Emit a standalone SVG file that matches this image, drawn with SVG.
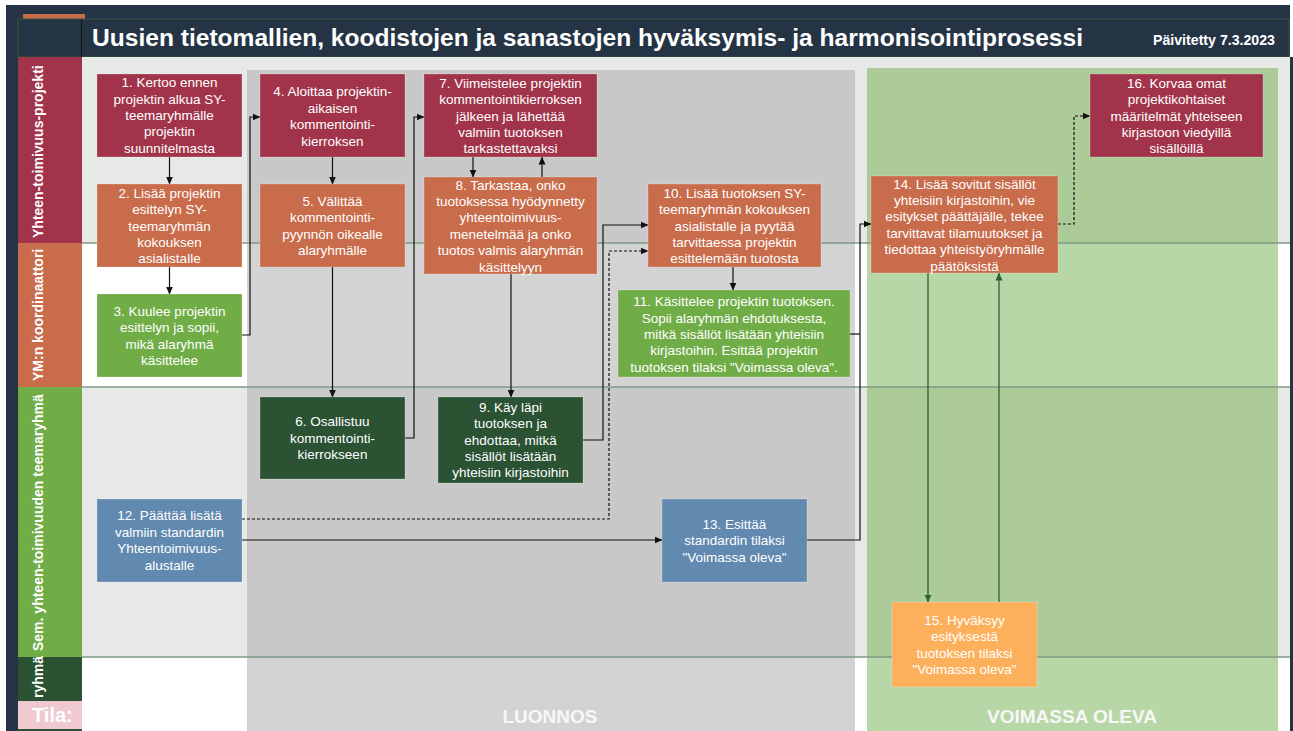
<svg xmlns="http://www.w3.org/2000/svg" width="1293" height="731" viewBox="0 0 1293 731">
<defs>
<style>
.nt{font-family:"Liberation Sans",Arial,sans-serif;font-size:13.5px;fill:#fff;text-anchor:middle}
.ln{font-family:"Liberation Sans",Arial,sans-serif;font-size:14px;font-weight:bold;fill:#fff}
.st{font-family:"Liberation Sans",Arial,sans-serif;font-size:19px;font-weight:bold;fill:#f7f7f7;text-anchor:middle}
.box{stroke:#ffffff;stroke-opacity:0.22;stroke-width:1}
.cr{fill:#A1344A}.or{fill:#C96C4C}.gr{fill:#70AD47}.dg{fill:#2A5233}.bl{fill:#6289AF}.ye{fill:#FDB05C}
.c{fill:none;stroke:#111;stroke-width:1.2}
.d{fill:none;stroke:#111;stroke-width:1.2;stroke-dasharray:3 2}
.g{fill:none;stroke:#2E5E36;stroke-width:1.3}
.sep{stroke:#7E9A84;stroke-width:1.5}
</style>
<marker id="ah" viewBox="0 0 8 8" refX="7.5" refY="4" markerWidth="8" markerHeight="8" markerUnits="userSpaceOnUse" orient="auto">
<path d="M0,0.5 L8,4 L0,7.5 z" fill="#111"/>
</marker>
<marker id="ahg" viewBox="0 0 8 8" refX="7.5" refY="4" markerWidth="8" markerHeight="8" markerUnits="userSpaceOnUse" orient="auto">
<path d="M0,0.5 L8,4 L0,7.5 z" fill="#2E5E36"/>
</marker>
</defs>

<g id="background">
<rect x="0" y="0" width="1293" height="731" fill="#ffffff"/>
<rect x="6" y="5" width="1284" height="52" fill="#243444"/>
<rect x="6" y="5" width="12" height="726" fill="#243444"/>
<rect x="1290" y="57" width="3" height="674" fill="#243444"/>
<rect x="23" y="14" width="62" height="5" fill="#C96C4C"/>
<rect x="18" y="19" width="1271" height="38" fill="none" stroke="#39543F" stroke-width="1"/>
<line x1="81.5" y1="19" x2="81.5" y2="57" stroke="#111" stroke-width="1"/>
<rect x="82" y="57" width="1208" height="186" fill="#E7E9E7"/>
<rect x="82" y="243" width="1208" height="144" fill="#ffffff"/>
<rect x="82" y="387" width="1208" height="270" fill="#E7E9E7"/>
<rect x="82" y="657" width="1208" height="74" fill="#ffffff"/>
<rect x="247" y="70" width="608" height="173" fill="#C8C8C8"/>
<rect x="247" y="243" width="608" height="144" fill="#D3D3D3"/>
<rect x="247" y="387" width="608" height="270" fill="#C8C8C8"/>
<rect x="247" y="657" width="608" height="74" fill="#D3D3D3"/>
<rect x="867" y="68" width="411" height="175" fill="#ADCB98"/>
<rect x="867" y="243" width="411" height="144" fill="#B8D7A6"/>
<rect x="867" y="387" width="411" height="270" fill="#ADCB98"/>
<rect x="867" y="657" width="411" height="74" fill="#B8D7A6"/>
<line class="sep" x1="82" y1="243" x2="1290" y2="243"/>
<line class="sep" x1="82" y1="387" x2="1290" y2="387"/>
<line class="sep" x1="82" y1="657" x2="1290" y2="657"/>
</g>

<g id="title">
<text x="92" y="46" textLength="991" lengthAdjust="spacingAndGlyphs" font-family="Liberation Sans, Arial, sans-serif" font-size="24" font-weight="bold" fill="#ffffff">Uusien tietomallien, koodistojen ja sanastojen hyväksymis- ja harmonisointiprosessi</text>
<text x="1153" y="45" textLength="122" lengthAdjust="spacingAndGlyphs" font-family="Liberation Sans, Arial, sans-serif" font-size="14" font-weight="bold" fill="#ffffff">Päivitetty 7.3.2023</text>
</g>

<g id="lanes">
<g id="lane-projekti"><rect x="18" y="57" width="64" height="186" class="cr"/><text class="ln" transform="translate(43,238) rotate(-90)">Yhteen-toimivuus-projekti</text></g>
<g id="lane-koordinaattori"><rect x="18" y="243" width="64" height="144" class="or"/><text class="ln" transform="translate(43,381) rotate(-90)">YM:n koordinaattori</text></g>
<g id="lane-teemaryhma"><rect x="18" y="387" width="64" height="270" class="gr"/><text class="ln" transform="translate(43,651) rotate(-90)">Sem. yhteen-toimivuuden teemaryhmä</text></g>
<g id="lane-ryhma"><rect x="18" y="657" width="64" height="44" class="dg"/><text class="ln" transform="translate(43,698) rotate(-90)">ryhmä</text></g>
<g id="lane-tila"><rect x="18" y="701" width="64" height="28" fill="#EFC8D0"/><rect x="18" y="729" width="64" height="2" class="dg"/><text x="32" y="722" font-family="Liberation Sans, Arial, sans-serif" font-size="20" font-weight="bold" fill="#ffffff">Tila:</text></g>
</g>

<g id="states">
<text class="st" x="550" y="723">LUONNOS</text>
<text class="st" x="1072" y="723">VOIMASSA OLEVA</text>
</g>

<g id="connectors">
<path class="c" d="M169.5,157 V184" marker-end="url(#ah)"/>
<path class="c" d="M169.5,267 V294" marker-end="url(#ah)"/>
<path class="c" d="M242,335 H250 V117 H260" marker-end="url(#ah)"/>
<path class="c" d="M332.5,157 V184" marker-end="url(#ah)"/>
<path class="c" d="M332.5,267 V397" marker-end="url(#ah)"/>
<path class="c" d="M405,438 H414 V117 H424" marker-end="url(#ah)"/>
<path class="c" d="M473,157 V177" marker-end="url(#ah)"/>
<path class="c" d="M542,177 V157" marker-end="url(#ah)"/>
<path class="c" d="M511,274 V397" marker-end="url(#ah)"/>
<path class="c" d="M583,440 H603 V225 H648" marker-end="url(#ah)"/>
<path class="c" d="M733,267 V290" marker-end="url(#ah)"/>
<path class="d" d="M242,519 H609 V251 H648" marker-end="url(#ah)"/>
<path class="c" d="M242,540 H662" marker-end="url(#ah)"/>
<path class="c" d="M807,540 H860 V224 H871" marker-end="url(#ah)"/>
<path class="c" d="M850,334 H860"/>
<path class="d" d="M1058,224 H1074 V116 H1090" marker-end="url(#ah)"/>
<path class="g" d="M928,273 V602" marker-end="url(#ahg)"/>
<path class="g" d="M999,602 V273" marker-end="url(#ahg)"/>
</g>

<g id="node1"><rect class="box cr" x="97" y="74" width="145" height="83"/>
<text class="nt" x="169.5" y="87.2"><tspan x="169.5">1. Kertoo ennen</tspan><tspan x="169.5" dy="16.4">projektin alkua SY-</tspan><tspan x="169.5" dy="16.4">teemaryhmälle</tspan><tspan x="169.5" dy="16.4">projektin</tspan><tspan x="169.5" dy="16.4">suunnitelmasta</tspan></text></g>

<g id="node2"><rect class="box or" x="97" y="184" width="145" height="83"/>
<text class="nt" x="169.5" y="197.7"><tspan x="169.5">2. Lisää projektin</tspan><tspan x="169.5" dy="16.4">esittelyn SY-</tspan><tspan x="169.5" dy="16.4">teemaryhmän</tspan><tspan x="169.5" dy="16.4">kokouksen</tspan><tspan x="169.5" dy="16.4">asialistalle</tspan></text></g>

<g id="node3"><rect class="box gr" x="97" y="294" width="145" height="83"/>
<text class="nt" x="169.5" y="315.9"><tspan x="169.5">3. Kuulee projektin</tspan><tspan x="169.5" dy="16.4">esittelyn ja sopii,</tspan><tspan x="169.5" dy="16.4">mikä alaryhmä</tspan><tspan x="169.5" dy="16.4">käsittelee</tspan></text></g>

<g id="node4"><rect class="box cr" x="260" y="74" width="145" height="83"/>
<text class="nt" x="332.5" y="96.4"><tspan x="332.5">4. Aloittaa projektin-</tspan><tspan x="332.5" dy="16.4">aikaisen</tspan><tspan x="332.5" dy="16.4">kommentointi-</tspan><tspan x="332.5" dy="16.4">kierroksen</tspan></text></g>

<g id="node5"><rect class="box or" x="260" y="184" width="145" height="83"/>
<text class="nt" x="332.5" y="205.9"><tspan x="332.5">5. Välittää</tspan><tspan x="332.5" dy="16.4">kommentointi-</tspan><tspan x="332.5" dy="16.4">pyynnön oikealle</tspan><tspan x="332.5" dy="16.4">alaryhmälle</tspan></text></g>

<g id="node6"><rect class="box dg" x="260" y="397" width="145" height="82"/>
<text class="nt" x="332.5" y="426.1"><tspan x="332.5">6. Osallistuu</tspan><tspan x="332.5" dy="16.4">kommentointi-</tspan><tspan x="332.5" dy="16.4">kierrokseen</tspan></text></g>

<g id="node7"><rect class="box cr" x="424" y="74" width="173" height="83"/>
<text class="nt" x="510.5" y="87.7"><tspan x="510.5">7. Viimeistelee projektin</tspan><tspan x="510.5" dy="16.4">kommentointikierroksen</tspan><tspan x="510.5" dy="16.4">jälkeen ja lähettää</tspan><tspan x="510.5" dy="16.4">valmiin tuotoksen</tspan><tspan x="510.5" dy="16.4">tarkastettavaksi</tspan></text></g>

<g id="node8"><rect class="box or" x="424" y="177" width="173" height="97"/>
<text class="nt" x="510.5" y="189.5"><tspan x="510.5">8. Tarkastaa, onko</tspan><tspan x="510.5" dy="16.4">tuotoksessa hyödynnetty</tspan><tspan x="510.5" dy="16.4">yhteentoimivuus-</tspan><tspan x="510.5" dy="16.4">menetelmää ja onko</tspan><tspan x="510.5" dy="16.4">tuotos valmis alaryhmän</tspan><tspan x="510.5" dy="16.4">käsittelyyn</tspan></text></g>

<g id="node9"><rect class="box dg" x="438" y="397" width="145" height="86"/>
<text class="nt" x="510.5" y="411.7"><tspan x="510.5">9. Käy läpi</tspan><tspan x="510.5" dy="16.4">tuotoksen ja</tspan><tspan x="510.5" dy="16.4">ehdottaa, mitkä</tspan><tspan x="510.5" dy="16.4">sisällöt lisätään</tspan><tspan x="510.5" dy="16.4">yhteisiin kirjastoihin</tspan></text></g>

<g id="node10"><rect class="box or" x="648" y="184" width="173" height="83"/>
<text class="nt" x="734.5" y="197.7"><tspan x="734.5">10. Lisää tuotoksen SY-</tspan><tspan x="734.5" dy="16.4">teemaryhmän kokouksen</tspan><tspan x="734.5" dy="16.4">asialistalle ja pyytää</tspan><tspan x="734.5" dy="16.4">tarvittaessa projektin</tspan><tspan x="734.5" dy="16.4">esittelemään tuotosta</tspan></text></g>

<g id="node11"><rect class="box gr" x="618" y="290" width="232" height="87"/>
<text class="nt" x="734" y="306.2"><tspan x="734">11. Käsittelee projektin tuotoksen.</tspan><tspan x="734" dy="16.4">Sopii alaryhmän ehdotuksesta,</tspan><tspan x="734" dy="16.4">mitkä sisällöt lisätään yhteisiin</tspan><tspan x="734" dy="16.4">kirjastoihin. Esittää projektin</tspan><tspan x="734" dy="16.4">tuotoksen tilaksi "Voimassa oleva".</tspan></text></g>

<g id="node12"><rect class="box bl" x="97" y="499" width="145" height="83"/>
<text class="nt" x="169.5" y="520.4"><tspan x="169.5">12. Päättää lisätä</tspan><tspan x="169.5" dy="16.4">valmiin standardin</tspan><tspan x="169.5" dy="16.4">Yhteentoimivuus-</tspan><tspan x="169.5" dy="16.4">alustalle</tspan></text></g>

<g id="node13"><rect class="box bl" x="662" y="499" width="145" height="83"/>
<text class="nt" x="734.5" y="528.8"><tspan x="734.5">13. Esittää</tspan><tspan x="734.5" dy="16.4">standardin tilaksi</tspan><tspan x="734.5" dy="16.4">"Voimassa oleva"</tspan></text></g>

<g id="node14"><rect class="box or" x="871" y="176" width="187" height="97"/>
<text class="nt" x="964.5" y="188.5"><tspan x="964.5">14. Lisää sovitut sisällöt</tspan><tspan x="964.5" dy="16.4">yhteisiin kirjastoihin, vie</tspan><tspan x="964.5" dy="16.4">esitykset päättäjälle, tekee</tspan><tspan x="964.5" dy="16.4">tarvittavat tilamuutokset ja</tspan><tspan x="964.5" dy="16.4">tiedottaa yhteistyöryhmälle</tspan><tspan x="964.5" dy="16.4">päätöksistä</tspan></text></g>

<g id="node15"><rect class="box ye" x="892" y="602" width="145" height="85"/>
<text class="nt" x="964.5" y="624.9"><tspan x="964.5">15. Hyväksyy</tspan><tspan x="964.5" dy="16.4">esityksestä</tspan><tspan x="964.5" dy="16.4">tuotoksen tilaksi</tspan><tspan x="964.5" dy="16.4">"Voimassa oleva"</tspan></text></g>

<g id="node16"><rect class="box cr" x="1090" y="74" width="173" height="83"/>
<text class="nt" x="1176.5" y="87.7"><tspan x="1176.5">16. Korvaa omat</tspan><tspan x="1176.5" dy="16.4">projektikohtaiset</tspan><tspan x="1176.5" dy="16.4">määritelmät yhteiseen</tspan><tspan x="1176.5" dy="16.4">kirjastoon viedyillä</tspan><tspan x="1176.5" dy="16.4">sisällöillä</tspan></text></g>
</svg>
